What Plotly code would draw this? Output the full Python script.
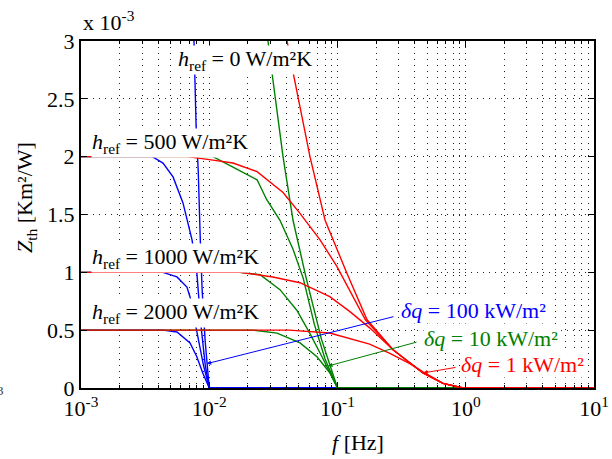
import math
import plotly.graph_objects as go

# frequency [Hz] and Z_th [1e-3 Km^2/W]
# delta q = 100 kW/m2 (blue)
b0_f = [0.0074, 0.0076, 0.0079, 0.0082, 0.0085, 0.0088, 0.0093, 0.0100, 10]
b0_z = [3.3, 3.0, 2.26, 1.885, 1.305, 0.85, 0.40, 0.0, 0.0]
b500_f = [0.001, 0.0036, 0.00436, 0.00522, 0.00624, 0.00734, 0.0080, 0.0086, 0.0093, 0.0100, 10]
b500_z = [2.0, 2.0, 1.945, 1.825, 1.60, 1.28, 1.0, 0.55, 0.20, 0.0, 0.0]
b1000_f = [0.001, 0.00436, 0.0056, 0.0067, 0.00708, 0.0080, 0.0090, 0.0100, 10]
b1000_z = [1.0, 1.0, 0.96, 0.873, 0.787, 0.50, 0.20, 0.0, 0.0]
b2000_f = [0.001, 0.00436, 0.0056, 0.00708, 0.0080, 0.0089, 0.0100, 10]
b2000_z = [0.5, 0.5, 0.484, 0.39, 0.27, 0.13, 0.0, 0.0]

# delta q = 10 kW/m2 (green)
g0_f = [0.027, 0.0287, 0.0308, 0.0376, 0.045, 0.057, 0.075, 0.1, 10]
g0_z = [3.3, 3.0, 2.73, 2.0, 1.45, 0.95, 0.42, 0.0, 0.0]
g500_f = [0.001, 0.0107, 0.0153, 0.0236, 0.028, 0.0356, 0.045, 0.054, 0.066, 0.08, 0.1, 10]
g500_z = [2.0, 2.0, 1.91, 1.80, 1.63, 1.45, 1.2, 0.95, 0.55, 0.25, 0.0, 0.0]
g1000_f = [0.001, 0.0174, 0.0249, 0.0356, 0.0483, 0.061, 0.0757, 0.0906, 0.1, 10]
g1000_z = [1.0, 1.0, 0.98, 0.85, 0.67, 0.47, 0.27, 0.10, 0.0, 0.0]
g2000_f = [0.001, 0.0219, 0.0338, 0.051, 0.0692, 0.0874, 0.1, 10]
g2000_z = [0.5, 0.5, 0.475, 0.39, 0.27, 0.13, 0.0, 0.0]

# delta q = 1 kW/m2 (red)
r0_f = [0.038, 0.0404, 0.045, 0.061, 0.080, 0.0923, 0.1186, 0.17, 0.271, 0.464, 0.665, 0.95, 10]
r0_z = [3.3, 3.0, 2.73, 2.0, 1.45, 1.28, 0.99, 0.59, 0.33, 0.13, 0.04, 0.0, 0.0]
r500_f = [0.001, 0.0067, 0.0107, 0.0153, 0.0236, 0.0376, 0.051, 0.0731, 0.0991, 0.132, 0.165, 0.271, 0.464, 0.665, 0.95, 10]
r500_z = [2.0, 2.0, 1.97, 1.945, 1.87, 1.69, 1.51, 1.28, 1.05, 0.79, 0.59, 0.33, 0.13, 0.04, 0.0, 0.0]
r1000_f = [0.001, 0.0174, 0.0313, 0.051, 0.087, 0.125, 0.178, 0.271, 0.464, 0.665, 0.95, 10]
r1000_z = [1.0, 1.0, 0.96, 0.91, 0.79, 0.66, 0.52, 0.33, 0.13, 0.04, 0.0, 0.0]
r2000_f = [0.001, 0.042, 0.087, 0.125, 0.178, 0.256, 0.366, 0.464, 0.665, 0.95, 10]
r2000_z = [0.5, 0.5, 0.475, 0.43, 0.38, 0.30, 0.21, 0.14, 0.04, 0.0, 0.0]

x_tickvals = [0.001, 0.01, 0.1, 1, 10]
x_ticktext = ["10<sup>-3</sup>", "10<sup>-2</sup>", "10<sup>-1</sup>", "10<sup>0</sup>", "10<sup>1</sup>"]
y_tickvals = [0, 0.5, 1, 1.5, 2, 2.5, 3]
y_ticktext = ["0", "0.5", "1", "1.5", "2", "2.5", "3"]

BLUE, GREEN, RED = "#0000FF", "#008000", "#FF0000"
FONT = "Liberation Serif, Times New Roman, serif"
FS = 22
GRID = "#222222"
DOTS = "1px,5px"

fig = go.Figure()
series = [
    (b0_f, b0_z, BLUE), (b500_f, b500_z, BLUE), (b1000_f, b1000_z, BLUE), (b2000_f, b2000_z, BLUE),
    (g0_f, g0_z, GREEN), (g500_f, g500_z, GREEN), (g1000_f, g1000_z, GREEN), (g2000_f, g2000_z, GREEN),
    (r0_f, r0_z, RED), (r500_f, r500_z, RED), (r1000_f, r1000_z, RED), (r2000_f, r2000_z, RED),
]
for fx, zy, col in series:
    fig.add_trace(go.Scatter(x=fx, y=zy, mode="lines", line=dict(color=col, width=1.4),
                             showlegend=False, hoverinfo="skip"))

ann = []
# h_ref labels (white background)
for txt, xf, yz in [("<i>h</i><sub>ref</sub> = 0 W/m²K", 0.0056, 2.836),
                    ("<i>h</i><sub>ref</sub> = 500 W/m²K", 0.00119, 2.118),
                    ("<i>h</i><sub>ref</sub> = 1000 W/m²K", 0.00119, 1.124),
                    ("<i>h</i><sub>ref</sub> = 2000 W/m²K", 0.00119, 0.648)]:
    ann.append(dict(x=math.log10(xf), y=yz, xref="x", yref="y", text=txt, showarrow=False,
                    xanchor="left", yanchor="middle", bgcolor="white", borderpad=0,
                    font=dict(family=FONT, size=FS, color="black")))

# delta q labels
for txt, xf, yz, col in [("<i>δq</i> = 100 kW/m²", 0.307, 0.666, BLUE),
                         ("<i>δq</i> = 10 kW/m²", 0.464, 0.424, GREEN),
                         ("<i>δq</i> = 1 kW/m²", 0.902, 0.199, RED)]:
    ann.append(dict(x=math.log10(xf), y=yz, xref="x", yref="y", text=txt, showarrow=False,
                    xanchor="left", yanchor="middle", bgcolor="white", borderpad=0,
                    font=dict(family=FONT, size=FS, color=col)))

# arrows
for hx, hy, tx, ty, col in [(0.00955, 0.21, 0.2807, 0.62, BLUE),
                            (0.0843, 0.19, 0.4244, 0.40, GREEN),
                            (0.464, 0.13, 0.855, 0.18, RED)]:
    ann.append(dict(x=math.log10(hx), y=hy, ax=math.log10(tx), ay=ty, xref="x", yref="y",
                    axref="x", ayref="y", text="", showarrow=True, arrowhead=2,
                    arrowsize=0.9, arrowwidth=1, arrowcolor=col, standoff=0, startstandoff=0))

# exponent label and axis titles
ann.append(dict(x=0.0, y=1.012, xref="paper", yref="paper", xanchor="left", yanchor="bottom",
                text="x 10<sup>-3</sup>", showarrow=False,
                font=dict(family=FONT, size=FS, color="black")))
ann.append(dict(x=-0.107, y=0.548, xref="paper", yref="paper", xanchor="center", yanchor="middle",
                text="<i>Z</i><sub>th</sub> [Km²/W]", textangle=-90, showarrow=False,
                font=dict(family=FONT, size=FS, color="black")))
ann.append(dict(x=0.54, y=-0.158, xref="paper", yref="paper", xanchor="center", yanchor="middle",
                text="<i>f</i> [Hz]", showarrow=False,
                font=dict(family=FONT, size=FS, color="black")))
ann.append(dict(x=-0.156, y=-0.006, xref="paper", yref="paper", xanchor="center", yanchor="middle",
                text="3", showarrow=False, font=dict(family=FONT, size=13, color="#333")))

fig.update_layout(
    width=612, height=459,
    margin=dict(l=81, r=18, t=41, b=71, autoexpand=False),
    paper_bgcolor="white", plot_bgcolor="white",
    font=dict(family=FONT, size=FS, color="black"),
    annotations=ann,
    showlegend=False,
)
fig.update_xaxes(type="log", range=[-3, 1], tickvals=x_tickvals, ticktext=x_ticktext,
                 automargin=False,
                 showline=True, linecolor="black", linewidth=2, mirror="allticks",
                 ticks="inside", ticklen=6, tickcolor="black", tickwidth=1,
                 showgrid=True, gridcolor=GRID, griddash=DOTS, gridwidth=1,
                 tickfont=dict(family=FONT, size=FS),
                 minor=dict(dtick="D1", showgrid=True, gridcolor=GRID, griddash=DOTS,
                            gridwidth=1, ticks="inside", ticklen=3, tickcolor="black"),
                 zeroline=False)
fig.update_yaxes(range=[0, 3], tickvals=y_tickvals, ticktext=y_ticktext,
                 automargin=False,
                 showline=True, linecolor="black", linewidth=2, mirror="allticks",
                 ticks="inside", ticklen=6, tickcolor="black", tickwidth=1,
                 showgrid=True, gridcolor=GRID, griddash=DOTS, gridwidth=1,
                 tickfont=dict(family=FONT, size=FS), zeroline=False)

fig.write_html("out.html", config={"displayModeBar": False},
               post_script="document.body.style.margin='0px';document.body.style.overflow='hidden';")
